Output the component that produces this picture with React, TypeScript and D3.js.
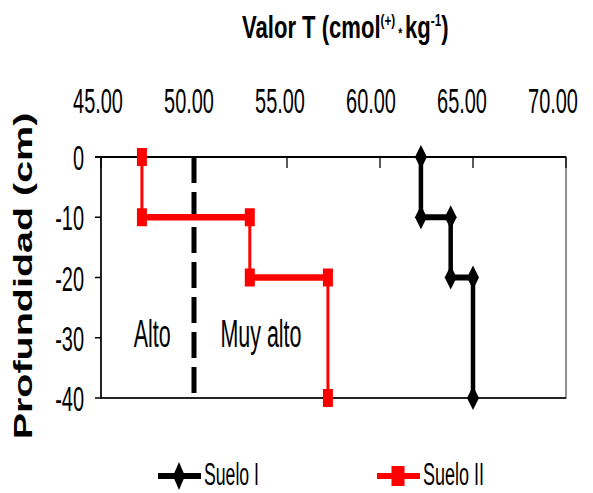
import * as React from 'react';
import * as d3 from 'd3';

const depths = [0, -10, -10, -20, -20, -40];
const sueloI = [62.2, 62.2, 63.8, 63.8, 65.0, 65.0];
const sueloII = [47.2, 47.2, 53.0, 53.0, 57.2, 57.2];
const xTicks = [45, 50, 55, 60, 65, 70];
const yTicks = [0, -10, -20, -30, -40];
const threshold = 50;
const zones = [
    {label: 'Alto', x: 47.75},
    {label: 'Muy alto', x: 53.6},
];
const legendItems = [
    {label: 'Suelo I', color: '#000', marker: 'diamond', x: 158, width: 55},
    {label: 'Suelo II', color: '#ff0000', marker: 'square', x: 377, width: 61},
];

const W = 593;
const H = 493;
const margin = {left: 101, right: 27, top: 157, bottom: 95};
const FONT = '"Liberation Sans", Arial, sans-serif';

type Pt = {x: number; y: number};

function Series(props: {xs: number[]; color: string; vw: number; hw: number; marker: string;
                        xScale: d3.ScaleLinear<number, number>; yScale: d3.ScaleLinear<number, number>}) {
    const {xs, color, vw, hw, marker, xScale, yScale} = props;
    const pts: Pt[] = xs.map((v, i) => ({x: xScale(v), y: yScale(depths[i])}));
    const segs = d3.pairs(pts);
    return (
        <g>
            {segs.map(([a, b], i) => {
                const horiz = Math.abs(a.y - b.y) < 0.5;
                return <line key={i} x1={a.x} y1={a.y} x2={b.x} y2={b.y} stroke={color}
                             strokeWidth={horiz ? hw : vw} strokeLinecap="butt"/>;
            })}
            {pts.map((p, i) => marker === 'square'
                ? <rect key={i} x={p.x - 5} y={p.y - 9} width={10} height={18} fill={color}/>
                : <path key={i} d={`M${p.x},${p.y - 12}L${p.x + 6},${p.y}L${p.x},${p.y + 12}L${p.x - 6},${p.y}Z`} fill={color}/>
            )}
        </g>
    );
}

export default function App() {
    const xScale = d3.scaleLinear().domain([45, 70]).range([margin.left, W - margin.right]);
    const yScale = d3.scaleLinear().domain([0, -40]).range([margin.top, H - margin.bottom]);
    // tick labels in the source sit slightly left of their ticks
    const labelX = d3.scaleLinear().domain([45, 70]).range([98, 553]);

    const x0 = xScale(45), x1 = xScale(70);
    const y0 = yScale(0), y1 = yScale(-40);

    return (
        <svg width={W} height={H} style={{position: 'absolute', left: 0, top: 0, background: '#fff'}}
             fontFamily={FONT}>
            {/* title */}
            <text transform="translate(242,38) scale(0.69,1)" fontSize={32} fontWeight="bold" fill="#000">
                Valor T (cmol
                <tspan fontSize={17} dy={-12}>(+)</tspan>
                <tspan fontSize={15} dy={12}> * </tspan>
                <tspan fontSize={32}>kg</tspan>
                <tspan fontSize={17} dy={-12}>-1</tspan>
                <tspan fontSize={32} dy={12}>)</tspan>
            </text>

            {/* y title */}
            <text transform="translate(32,276) rotate(-90) scale(1.49,1)" textAnchor="middle"
                  fontSize={26.5} fontWeight="bold" fill="#000">Profundidad (cm)</text>

            {/* x tick labels */}
            {xTicks.map(t => (
                <text key={t} transform={`translate(${labelX(t)},113) scale(0.57,1)`} textAnchor="middle"
                      fontSize={35} fill="#000">{t.toFixed(2)}</text>
            ))}

            {/* y tick labels */}
            {yTicks.map(t => (
                <text key={t} transform={`translate(84,${yScale(t) + 13}) scale(0.57,1)`} textAnchor="end"
                      fontSize={35} fill="#000">{t}</text>
            ))}

            {/* plot box */}
            <rect x={x0} y={y0} width={x1 - x0} height={y1 - y0} fill="none" stroke="#555" strokeWidth={1.3}/>
            <line x1={x0} y1={y1} x2={x1} y2={y1} stroke="#222" strokeWidth={2}/>
            <line x1={x0} y1={y0} x2={x0} y2={y1} stroke="#000" strokeWidth={1.5}/>
            <line x1={95} y1={y0} x2={x1} y2={y0} stroke="#000" strokeWidth={2.2}/>
            {yTicks.map(t => (
                <line key={t} x1={95} x2={x0} y1={yScale(t)} y2={yScale(t)} stroke="#000" strokeWidth={1.5}/>
            ))}
            {xTicks.map(t => (
                <line key={t} x1={xScale(t)} x2={xScale(t)} y1={y0} y2={y0 + 11} stroke="#000" strokeWidth={1.3}/>
            ))}

            {/* threshold */}
            <line x1={xScale(threshold)} x2={xScale(threshold)} y1={y0} y2={y1}
                  stroke="#000" strokeWidth={5} strokeDasharray="26,9"/>

            {zones.map(z => (
                <text key={z.label} transform={`translate(${xScale(z.x)},${yScale(-31.5)}) scale(0.55,1)`}
                      textAnchor="middle" fontSize={39} fill="#000">{z.label}</text>
            ))}

            <Series xs={sueloII} color="#ff0000" vw={3} hw={6.5} marker="square" xScale={xScale} yScale={yScale}/>
            <Series xs={sueloI} color="#000" vw={4.5} hw={6} marker="diamond" xScale={xScale} yScale={yScale}/>

            {/* legend */}
            {legendItems.map(it => {
                const cx = it.x + 21;
                return (
                    <g key={it.label}>
                        <line x1={it.x} x2={it.x + 43} y1={476} y2={476} stroke={it.color} strokeWidth={6}/>
                        {it.marker === 'square'
                            ? <rect x={cx - 6.5} y={466} width={13} height={20} fill={it.color}/>
                            : <path d={`M${cx},462L${cx + 6},476L${cx},490L${cx - 6},476Z`} fill={it.color}/>}
                        <text x={it.x + 46} y={485} fontSize={31} textLength={it.width}
                              lengthAdjust="spacingAndGlyphs" fill="#000">{it.label}</text>
                    </g>
                );
            })}
        </svg>
    );
}
